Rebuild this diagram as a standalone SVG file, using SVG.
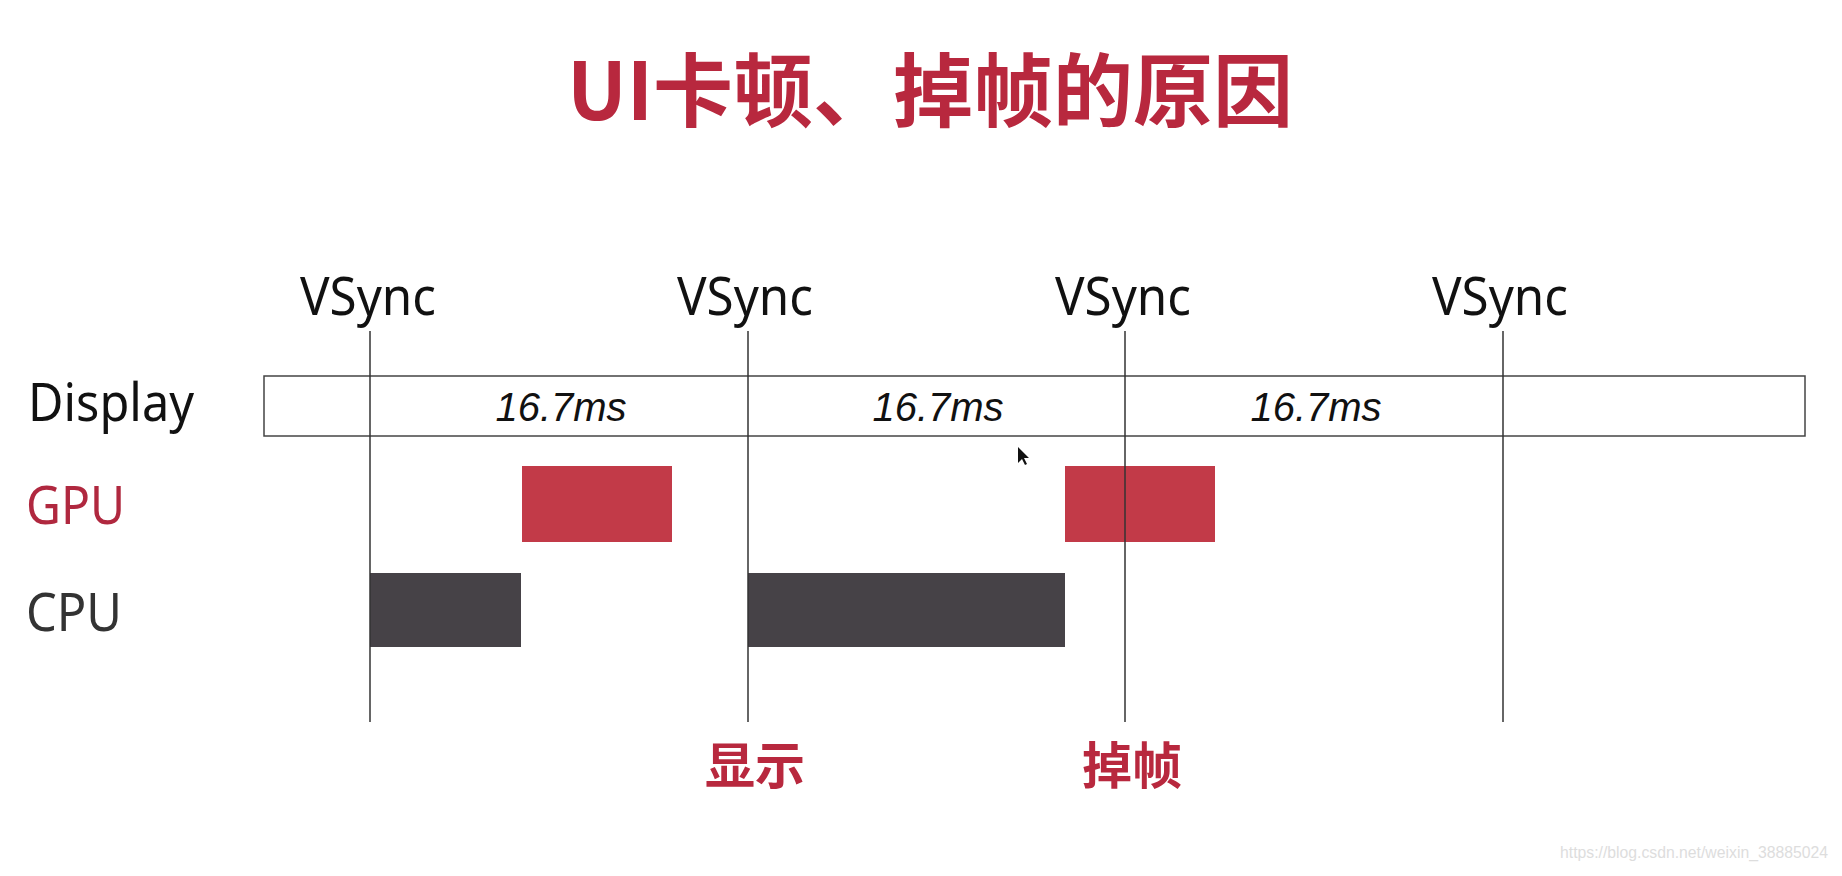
<svg xmlns="http://www.w3.org/2000/svg" width="1842" height="876" viewBox="0 0 1842 876">
  <style>
    .lbl { font-family: "Noto Sans", "Liberation Sans", sans-serif; font-size: 52px; }
    .ms { font-family: "Liberation Sans", Arial, sans-serif; font-style: italic; font-size: 40px; fill: #111; text-anchor: middle; }
    .cjk { font-family: "Noto Sans CJK SC", "Noto Sans", sans-serif; font-weight: bold; fill: #B8283E; }
    .vline { stroke: #333; stroke-width: 1.5; }
    .gpu { fill: #C23A48; }
    .cpu { fill: #464247; }
  </style>
  <rect width="1842" height="876" fill="#ffffff"/>
  <g id="title">
    <text class="cjk" x="930" y="120" font-size="80" text-anchor="middle">UI卡顿、掉帧的原因</text>
  </g>
  <g id="vsync-labels">
    <text class="lbl" x="368" y="315" fill="#111" text-anchor="middle" textLength="136" lengthAdjust="spacingAndGlyphs">VSync</text>
    <text class="lbl" x="745" y="315" fill="#111" text-anchor="middle" textLength="136" lengthAdjust="spacingAndGlyphs">VSync</text>
    <text class="lbl" x="1123" y="315" fill="#111" text-anchor="middle" textLength="136" lengthAdjust="spacingAndGlyphs">VSync</text>
    <text class="lbl" x="1500" y="315" fill="#111" text-anchor="middle" textLength="136" lengthAdjust="spacingAndGlyphs">VSync</text>
  </g>
  <g id="row-labels">
    <text class="lbl" x="28" y="421" fill="#111" textLength="166" lengthAdjust="spacingAndGlyphs">Display</text>
    <text class="lbl" x="26" y="524" fill="#B0283F" textLength="99" lengthAdjust="spacingAndGlyphs">GPU</text>
    <text class="lbl" x="26" y="631" fill="#333" textLength="96" lengthAdjust="spacingAndGlyphs">CPU</text>
  </g>
  <g id="display">
    <rect x="264" y="376" width="1541" height="60" fill="none" stroke="#444" stroke-width="1.5"/>
    <text class="ms" x="561" y="421">16.7ms</text>
    <text class="ms" x="938" y="421">16.7ms</text>
    <text class="ms" x="1316" y="421">16.7ms</text>
  </g>
  <g id="gpu-blocks">
    <rect class="gpu" x="522" y="466" width="150" height="76"/>
    <rect class="gpu" x="1065" y="466" width="150" height="76"/>
  </g>
  <g id="cpu-blocks">
    <rect class="cpu" x="370" y="573" width="151" height="74"/>
    <rect class="cpu" x="748" y="573" width="317" height="74"/>
  </g>
  <g id="connectors">
    <line class="vline" x1="370" y1="331" x2="370" y2="722"/>
    <line class="vline" x1="748" y1="331" x2="748" y2="722"/>
    <line class="vline" x1="1125" y1="331" x2="1125" y2="722"/>
    <line class="vline" x1="1503" y1="331" x2="1503" y2="722"/>
  </g>
  <g id="bottom-labels">
    <text class="cjk" x="755" y="784" font-size="50" text-anchor="middle" fill="#C0304A">显示</text>
    <text class="cjk" x="1132" y="784" font-size="50" text-anchor="middle" fill="#C0304A">掉帧</text>
  </g>
  <g id="cursor">
    <path d="M1018,447 L1018,463 L1022,459 L1025,465 L1027,464 L1024,458 L1029,458 Z" fill="#111"/>
  </g>
  <g id="watermark">
    <text x="1560" y="858" font-family="Liberation Sans, Arial, sans-serif" font-size="16" fill="#dddddd" textLength="268" lengthAdjust="spacingAndGlyphs">https://blog.csdn.net/weixin_38885024</text>
  </g>
</svg>
